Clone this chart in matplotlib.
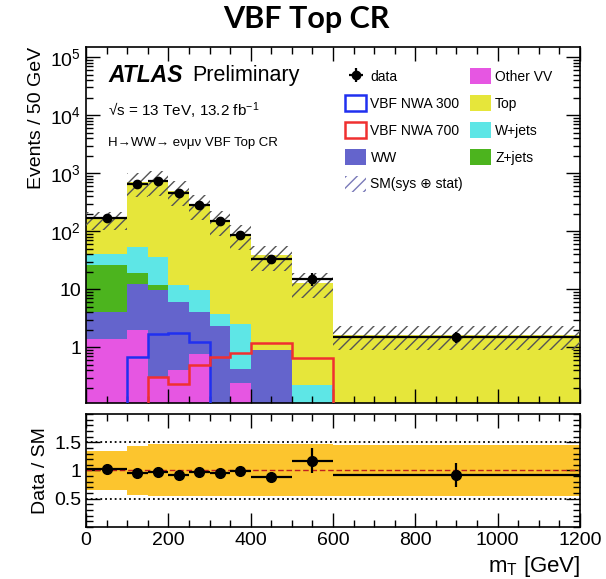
import numpy as np
import matplotlib
matplotlib.use('Agg')
import matplotlib.pyplot as plt
from matplotlib.patches import Patch
from matplotlib.ticker import MultipleLocator, FixedLocator, LogLocator, NullFormatter

plt.rcParams['font.family'] = ['Liberation Sans', 'DejaVu Sans']
plt.rcParams['mathtext.fontset'] = 'custom'
plt.rcParams['mathtext.rm'] = 'Liberation Sans'
plt.rcParams['mathtext.it'] = 'Liberation Sans:italic'
plt.rcParams['mathtext.bf'] = 'Liberation Sans:bold'
plt.rcParams['hatch.linewidth'] = 1.0

# m_T binning [GeV]
edges = [0, 100, 150, 200, 250, 300, 350, 400, 500, 600, 1200]

# background stack, bottom to top (events / 50 GeV)
other_vv = [1.41, 1.96, 0.30, 0.40, 0.78, 0.0, 0.24, 0.0, 0.0, 0.0]
ww = [2.65, 10.5, 9.5, 5.6, 3.28, 2.3, 0.19, 0.9, 0.0, 0.0]
zjets = [22.0, 6.3, 2.2, 0.0, 0.0, 0.0, 0.0, 0.0, 0.0, 0.0]
wjets = [15.0, 34.0, 24.0, 6.0, 5.5, 1.5, 2.13, 0.0, 0.22, 0.0]
top = [120.0, 639.0, 724.0, 485.0, 277.0, 151.0, 84.0, 37.5, 12.8, 1.63]

# signal hypotheses
nwa300 = [0.0, 0.68, 1.72, 1.75, 1.23, 0.0, 0.0, 0.0, 0.0, 0.0]
nwa700 = [0.0, 0.0, 0.31, 0.23, 0.49, 0.68, 0.80, 1.19, 0.66, 0.0]

# observed
data = [166, 664, 737, 457, 281, 149, 85, 33.8, 15.3, 1.5]
data_err = [13, 26, 27, 21, 17, 12, 9, 5.8, 3.9, 0.33]
ratio_err = [0.04, 0.03, 0.03, 0.04, 0.04, 0.05, 0.07, 0.07, 0.22, 0.21]

# relative SM uncertainty (sys + stat)
sm_unc = [0.35, 0.43, 0.46, 0.46, 0.46, 0.46, 0.46, 0.46, 0.46, 0.45]

c_vv = '#E656E2'
c_ww = '#6464CC'
c_z = '#4CB41E'
c_w = '#5EE6E6'
c_top = '#E6E63A'
c_300 = '#2030F0'
c_700 = '#F03030'
c_band = '#FCC52E'

edges = np.array(edges, dtype=float)
centers = 0.5 * (edges[1:] + edges[:-1])
halfw = 0.5 * (edges[1:] - edges[:-1])
floor = 1e-3

fig = plt.figure(figsize=(6.06, 5.79), dpi=100)
ax = fig.add_axes([0.142, 0.304, 0.815, 0.615])
rax = fig.add_axes([0.142, 0.09, 0.815, 0.195])

# stacked backgrounds
base = np.full(len(top), floor)
for vals, col in [(other_vv, c_vv), (ww, c_ww), (zjets, c_z), (wjets, c_w), (top, c_top)]:
    upper = base + np.array(vals)
    ax.stairs(upper, edges, baseline=base, fill=True, color=col, lw=0)
    base = upper
total = base - floor

# signals
ax.stairs(np.clip(nwa300, floor, None), edges, baseline=floor, color=c_300, lw=1.8, zorder=3)
ax.stairs(np.clip(nwa700, floor, None), edges, baseline=floor, color=c_700, lw=1.8, zorder=3)

# uncertainty band
unc = np.array(sm_unc)
ax.stairs(total * (1 + unc), edges, baseline=total * (1 - unc), fill=True,
          facecolor='none', edgecolor='#555555', hatch='///', lw=0, zorder=4)

dat = ax.errorbar(centers, data, xerr=halfw, yerr=data_err, fmt='o', color='k',
                  ms=6, lw=1.6, capsize=0, zorder=5)

ax.set_yscale('log')
ax.set_xlim(0, 1200)
ax.set_ylim(0.11, 1.5e5)
ax.yaxis.set_major_locator(FixedLocator([1, 10, 100, 1e3, 1e4, 1e5]))
ax.set_yticklabels(['1', '10', '10$^{2}$', '10$^{3}$', '10$^{4}$', '10$^{5}$'])
ax.yaxis.set_minor_locator(LogLocator(base=10, subs=np.arange(2, 10), numticks=20))
ax.yaxis.set_minor_formatter(NullFormatter())
ax.xaxis.set_major_locator(MultipleLocator(200))
ax.xaxis.set_minor_locator(MultipleLocator(50))
ax.tick_params(axis='x', labelbottom=False)
ax.set_ylabel('Events / 50 GeV', fontsize=14, loc='top')

# ratio panel
ratio = np.array(data) / total
rax.stairs(1 + unc, edges, baseline=1 - unc, fill=True, color=c_band, lw=0)
rax.axhline(1.0, color='#C02020', ls='--', lw=1.0, dashes=(4, 2))
rax.axhline(0.5, color='k', ls=':', lw=1.3)
rax.axhline(1.5, color='k', ls=':', lw=1.3)
rax.errorbar(centers, ratio, xerr=halfw, yerr=ratio_err, fmt='o', color='k',
             ms=7, lw=1.6, capsize=0, zorder=5)
rax.set_xlim(0, 1200)
rax.set_ylim(0, 2)
rax.yaxis.set_major_locator(FixedLocator([0.5, 1, 1.5]))
rax.set_yticklabels(['0.5', '1', '1.5'])
rax.yaxis.set_minor_locator(MultipleLocator(0.1))
rax.xaxis.set_major_locator(MultipleLocator(200))
rax.xaxis.set_minor_locator(MultipleLocator(50))
rax.set_ylabel('Data / SM', fontsize=14)
rax.set_xlabel('m$_{\\mathrm{T}}$ [GeV]', fontsize=16, loc='right')

for a in (ax, rax):
    a.tick_params(which='both', direction='in', top=True, right=True, labelsize=14)
    a.tick_params(which='major', length=10, width=1)
    a.tick_params(which='minor', length=5, width=1)
    for s in a.spines.values():
        s.set_linewidth(1.2)

# labels
ax.text(0.045, 0.92, 'ATLAS', transform=ax.transAxes, fontsize=16.5,
        fontweight='bold', fontstyle='italic', va='center')
ax.text(0.215, 0.92, 'Preliminary', transform=ax.transAxes, fontsize=15.5, va='center')
ax.text(0.045, 0.82, '√s = 13 TeV, 13.2 fb$^{-1}$', transform=ax.transAxes,
        fontsize=11, va='center')
ax.text(0.045, 0.73, 'H→WW→ eνμν VBF Top CR', transform=ax.transAxes,
        fontsize=9.5, va='center')

handles = [
    dat,
    Patch(facecolor='none', edgecolor=c_300, lw=1.8),
    Patch(facecolor='none', edgecolor=c_700, lw=1.8),
    Patch(facecolor=c_ww, edgecolor='none'),
    Patch(facecolor='none', edgecolor='#7a7ab8', hatch='///', lw=0),
    Patch(facecolor=c_vv, edgecolor='none'),
    Patch(facecolor=c_top, edgecolor='none'),
    Patch(facecolor=c_w, edgecolor='none'),
    Patch(facecolor=c_z, edgecolor='none'),
]
labels = ['data', 'VBF NWA 300', 'VBF NWA 700', 'WW', 'SM(sys ⊕ stat)',
          'Other VV', 'Top', 'W+jets', 'Z+jets']
ax.legend(handles, labels, ncol=2, loc='upper left', bbox_to_anchor=(0.50, 0.975),
          frameon=False, fontsize=10, handlelength=1.5, handleheight=1.4,
          labelspacing=0.78, columnspacing=0.5, handletextpad=0.3)

fig.text(0.505, 0.968, 'VBF Top CR', ha='center', va='center', fontsize=22,
         fontweight='bold', family='Lato')

fig.savefig('out.png', dpi=100)
